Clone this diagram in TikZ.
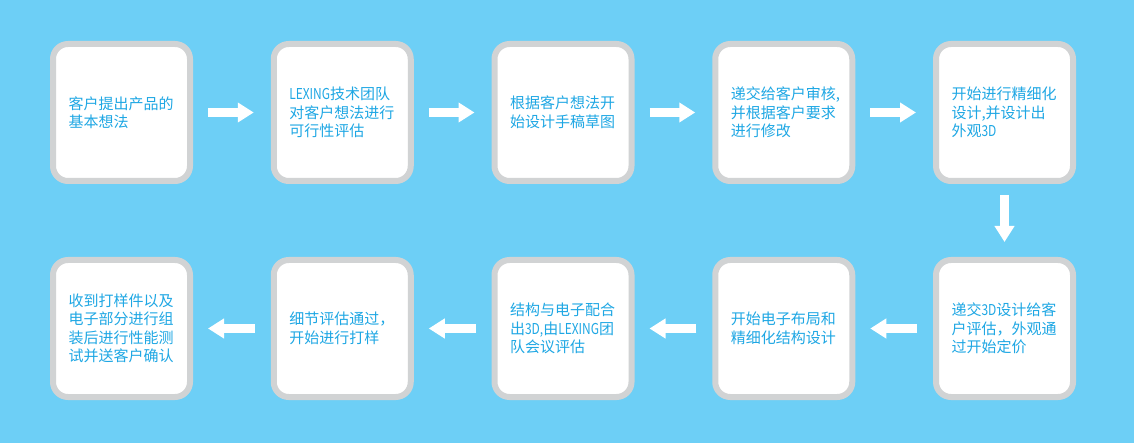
\documentclass[tikz,border=0pt]{standalone}
\usepackage{fontspec}
\setmainfont{Noto Sans CJK SC}
\newfontfamily\latn[FakeStretch=0.8]{Noto Sans CJK SC}
\usetikzlibrary{arrows.meta}
\definecolor{bgblue}{HTML}{6DCFF6}
\definecolor{boxgray}{HTML}{D1D3D4}
\definecolor{txtblue}{HTML}{1EA7E4}
\newcommand{\lt}[1]{{\latn #1}}
\tikzset{
  stepbox/.style={draw=boxgray, fill=white, line width=6pt, rounded corners=15pt,
    minimum width=137pt, minimum height=137pt, text width=106pt, align=left,
    inner sep=0pt, text=txtblue,
    font=\fontsize{15pt}{18.5pt}\selectfont},
  flowarrow/.style={draw=white, line width=9pt,
    -{Triangle[length=16pt,width=19pt,fill=white]}}
}
\begin{document}
\begin{tikzpicture}[x=1pt,y=-1pt]
\fill[bgblue] (0,0) rectangle (1134,443);
\useasboundingbox (0,0) rectangle (1134,443);
% row 1
\node[stepbox] (b1) at (121.5,112.5) {客户提出产品的\\基本想法};
\node[stepbox] (b2) at (342.25,112.5) {\lt{LEXING}技术团队\\对客户想法进行\\可行性评估};
\node[stepbox] (b3) at (563,112.5) {根据客户想法开\\始设计手稿草图};
\node[stepbox] (b4) at (783.75,112.5) {递交给客户审核,\\并根据客户要求\\进行修改};
\node[stepbox] (b5) at (1004.5,112.5) {开始进行精细化\\设计,并设计出\\外观\lt{3D}};
% row 2
\node[stepbox] (b6) at (1004.5,328.5) {递交\lt{3D}设计给客\\户评估，外观通\\过开始定价};
\node[stepbox] (b7) at (783.75,328.5) {开始电子布局和\\精细化结构设计};
\node[stepbox] (b8) at (563,328.5) {结构与电子配合\\出\lt{3D,}由\lt{LEXING}团\\队会议评估};
\node[stepbox] (b9) at (342.25,328.5) {细节评估通过，\\开始进行打样};
\node[stepbox] (b10) at (121.5,328.5) {收到打样件以及\\电子部分进行组\\装后进行性能测\\试并送客户确认};
% arrows
\draw[flowarrow] ([xshift=15pt]b1.east) -- ([xshift=-17pt]b2.west);
\draw[flowarrow] ([xshift=15pt]b2.east) -- ([xshift=-17pt]b3.west);
\draw[flowarrow] ([xshift=15pt]b3.east) -- ([xshift=-17pt]b4.west);
\draw[flowarrow] ([xshift=15pt]b4.east) -- ([xshift=-17pt]b5.west);
\draw[flowarrow] ([yshift=-11pt]b5.south) -- ([yshift=15pt]b6.north);
\draw[flowarrow] ([xshift=-16pt]b6.west) -- ([xshift=15pt]b7.east);
\draw[flowarrow] ([xshift=-16pt]b7.west) -- ([xshift=15pt]b8.east);
\draw[flowarrow] ([xshift=-16pt]b8.west) -- ([xshift=15pt]b9.east);
\draw[flowarrow] ([xshift=-16pt]b9.west) -- ([xshift=15pt]b10.east);
\end{tikzpicture}
\end{document}
